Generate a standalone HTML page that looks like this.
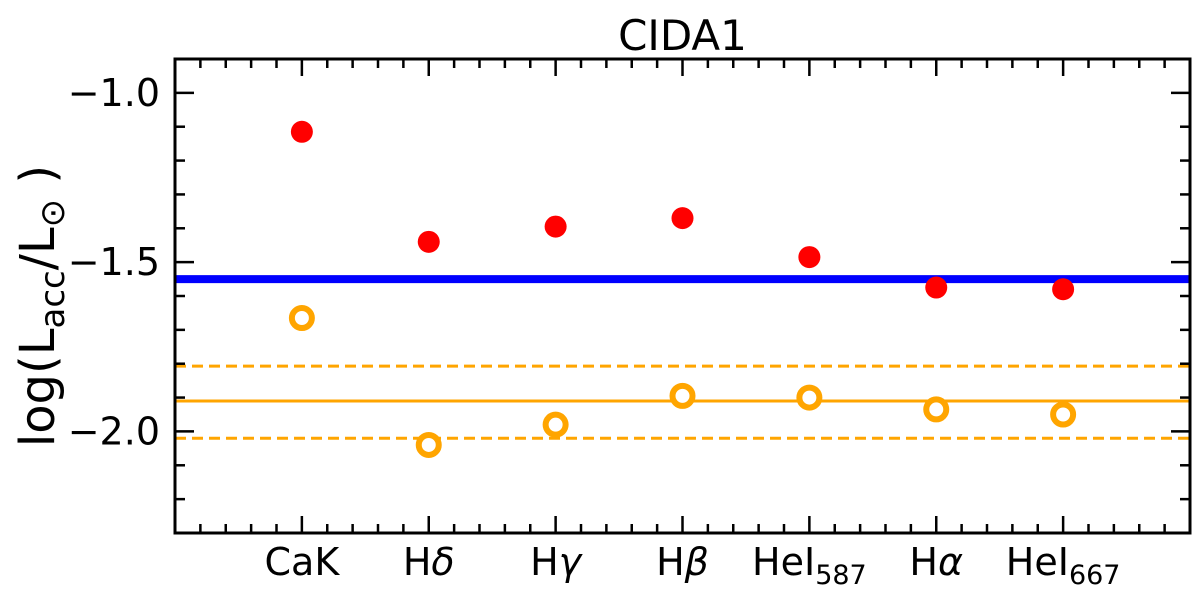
<!DOCTYPE html>
<html><head><meta charset="utf-8"><style>
body{margin:0;background:#fff}
svg text{font-family:"DejaVu Sans","Liberation Sans",sans-serif;fill:#000}
</style></head><body>
<svg id="chart" width="1200" height="587" xmlns="http://www.w3.org/2000/svg"></svg>
<script>
const categories = ["CaK","Hδ","Hγ","Hβ","HeI587","Hα","HeI667"];
const redValues = [-1.115,-1.44,-1.395,-1.37,-1.485,-1.575,-1.58];
const orangeValues = [-1.665,-2.04,-1.98,-1.895,-1.9,-1.935,-1.95];
const blueLevel = -1.55;
const orangeMean = -1.91;
const orangeLow = -2.02;
const orangeHigh = -1.807;
const yTicks = [-1.0,-1.5,-2.0];
const yTickLabels = ["−1.0","−1.5","−2.0"];

const L=175,R=1190,T=59,B=533;
const NS="http://www.w3.org/2000/svg";
const svg=document.getElementById('chart');
const xs=i=>L+(i+1)*(R-L)/8;
const ys=v=>T+(v-(-0.9))/(-2.3-(-0.9))*(B-T);
function mk(tag,attrs,parent){const e=document.createElementNS(NS,tag);for(const k in attrs)e.setAttribute(k,attrs[k]);(parent||svg).appendChild(e);return e;}

let e=mk('line',{x1:L,x2:R,y1:ys(blueLevel),y2:ys(blueLevel),stroke:'#0000ff','stroke-width':8});


e=mk('line',{x1:L,x2:R,y1:ys(orangeMean),y2:ys(orangeMean),stroke:'orange','stroke-width':3});


[orangeLow,orangeHigh].forEach(v=>{
  const l=mk('line',{x1:L,x2:R,y1:ys(v),y2:ys(v),stroke:'orange','stroke-width':3,'stroke-dasharray':'11,6'});
  
  
});
redValues.forEach((v,i)=>{
  const c=mk('circle',{cx:xs(i),cy:ys(v),r:11,fill:'#ff0000'});
  
  
});
orangeValues.forEach((v,i)=>{
  const c=mk('circle',{cx:xs(i),cy:ys(v),r:10,fill:'#fff',stroke:'orange','stroke-width':6});
  
  
});
e=mk('rect',{x:L,y:T,width:R-L,height:B-T,fill:'none',stroke:'#000','stroke-width':3});


for(let k=0;k<=40;k++){
  const x=L+k*(R-L)/40, major=k%5===0&&k>0&&k<40;
  const len=major?17:9;
  mk('line',{x1:x,x2:x,y1:B,y2:B-len,stroke:'#000','stroke-width':2.5});
  mk('line',{x1:x,x2:x,y1:T,y2:T+len,stroke:'#000','stroke-width':2.5});
}
for(let k=0;k<=14;k++){
  const v=-0.9-k*0.1, x5=Math.abs((v*10)%5)<0.01||Math.abs(Math.abs((v*10)%5)-5)<0.01;
  const y=ys(v), len=x5?19:10;
  mk('line',{x1:L,x2:L+len,y1:y,y2:y,stroke:'#000','stroke-width':2.5});
  mk('line',{x1:R,x2:R-len,y1:y,y2:y,stroke:'#000','stroke-width':2.5});
}
yTicks.forEach((v,i)=>{
  const t=mk('text',{x:L-15,y:ys(v)+13,'font-size':38,'text-anchor':'end'});
  t.textContent=yTickLabels[i];
  
  
});
categories.forEach((c,i)=>{
  const t=mk('text',{x:xs(i),y:575,'font-size':38,'text-anchor':'middle'});
  
  
  const m=c.match(/^(HeI)(\d+)$/), g=c.match(/^H([δγβα])$/);
  if(m){t.textContent=m[1];const s=mk('tspan',{'font-size':27,dy:9},t);s.textContent=m[2];}
  else if(g){t.textContent='H';const s=mk('tspan',{'font-style':'italic'},t);s.textContent=g[1];}
  else t.textContent=c;
});
e=mk('text',{x:(L+R)/2,y:50,'font-size':42,'text-anchor':'middle'});
e.textContent='CIDA1';


const yt=mk('text',{transform:'translate(54,306) rotate(-90)','font-size':48,'text-anchor':'middle'});


yt.appendChild(document.createTextNode('log(L'));
let s=mk('tspan',{'font-size':34,dy:10},yt);s.textContent='acc';
s=mk('tspan',{dy:-10},yt);s.textContent='/L';
s=mk('tspan',{'font-size':34,dy:10},yt);s.textContent='⊙';
s=mk('tspan',{dy:-10},yt);s.textContent=' )';
</script>
</body></html>
